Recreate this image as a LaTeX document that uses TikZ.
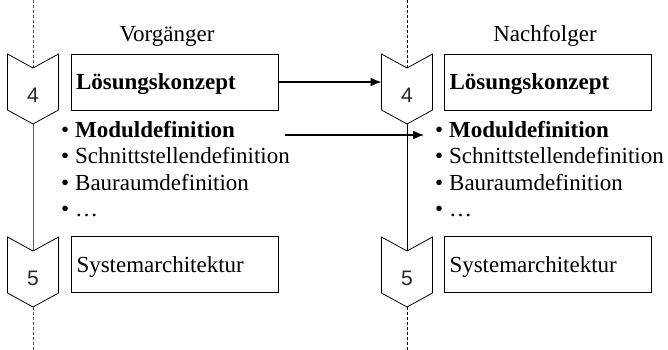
\documentclass[tikz,border=0pt]{standalone}
\usepackage{fontspec}
\setmainfont{Liberation Serif}
\newfontfamily\numfont{Liberation Sans}
\usetikzlibrary{arrows.meta}

% a stage marker: chevron pointing down, with its number inside
% #1 name, #2 centre x, #3 top y, #4 number
\newcommand{\stagemark}[4]{%
  \draw[chev] (#2-25.5,#3) -- (#2,#3+14) -- (#2+25.5,#3)
    -- (#2+25.5,#3+56) -- (#2,#3+70) -- (#2-25.5,#3+56) -- cycle;
  \coordinate (#1-notch) at (#2,#3+14);
  \coordinate (#1-tip) at (#2,#3+70);
  \coordinate (#1-w) at (#2-25.5,#3+28);
  \node[num] (#1-num) at (#2,#3+41.5) {#4};
}

\begin{document}
\begin{tikzpicture}[x=1pt,y=-1pt,
  every node/.style={font=\fontsize{23}{26.5}\selectfont},
  chev/.style={draw, line width=0.8pt, fill=white},
  num/.style={font=\numfont\fontsize{21}{21}\selectfont, inner sep=0pt, text=black!85},
  frame/.style={draw, line width=0.8pt, minimum width=207pt, minimum height=56pt,
    text width=197pt, align=left, inner xsep=5pt, inner ysep=0pt,
    text height=16pt, text depth=0pt},
  item/.style={anchor=base west, inner sep=0pt},
  head/.style={anchor=base, inner sep=0pt},
  flow/.style={line width=0.8pt},
  lane/.style={line width=0.8pt, dash pattern=on 3pt off 2pt},
  link/.style={line width=1.5pt, -{Latex[length=11pt,width=9pt]}},
]
\useasboundingbox (0,0) rectangle (668,350);

% lane ends
\coordinate (ltop) at (33,0);
\coordinate (lbot) at (33,350);
\coordinate (rtop) at (407,0);
\coordinate (rbot) at (407,350);

% lane headings
\node[head] (vor) at (167,42) {Vorgänger};
\node[head] (nach) at (545,42) {Nachfolger};

% left lane
\draw[lane, black!65] (ltop) -- (33,68);
\draw[flow, black!65] (33,124) -- (33,251);
\draw[lane, black!65] (33,307) -- (lbot);
\stagemark{l4}{33}{54}{4}
\stagemark{l5}{33}{237}{5}

\node[frame, font=\bfseries\fontsize{23}{26.5}\selectfont] (lk1) at (174.5,82) {Lösungskonzept};
\node[frame] (sa1) at (175,264.5) {Systemarchitektur};

\node[item] (m1) at (75,137) {\llap{•\hspace{6pt}}\textbf{Moduldefinition}};
\node[item] (s1) at (75,163.5) {\llap{•\hspace{6pt}}Schnittstellendefinition};
\node[item] (b1) at (75,190) {\llap{•\hspace{6pt}}Bauraumdefinition};
\node[item] (d1) at (75,216.5) {\llap{•\hspace{6pt}}…};

% right lane
\draw[lane] (rtop) -- (407,68);
\draw[flow] (407,124) -- (407,251);
\draw[lane] (407,307) -- (rbot);
\stagemark{r4}{407}{54}{4}
\stagemark{r5}{407}{237}{5}

\node[frame, font=\bfseries\fontsize{23}{26.5}\selectfont] (lk2) at (548,82) {Lösungskonzept};
\node[frame] (sa2) at (548,264.5) {Systemarchitektur};

\node[item] (m2) at (449,137) {\llap{•\hspace{6pt}}\textbf{Moduldefinition}};
\node[item] (s2) at (449,163.5) {\llap{•\hspace{6pt}}Schnittstellendefinition};
\node[item] (b2) at (449,190) {\llap{•\hspace{6pt}}Bauraumdefinition};
\node[item] (d2) at (449,216.5) {\llap{•\hspace{6pt}}…};

% hand-over arrows
\coordinate (mstart) at (285,135);
\coordinate (mend) at (424,135);
\draw[link] (lk1.east) -- (r4-w);
\draw[link] (mstart) -- (mend);
\end{tikzpicture}
\end{document}
